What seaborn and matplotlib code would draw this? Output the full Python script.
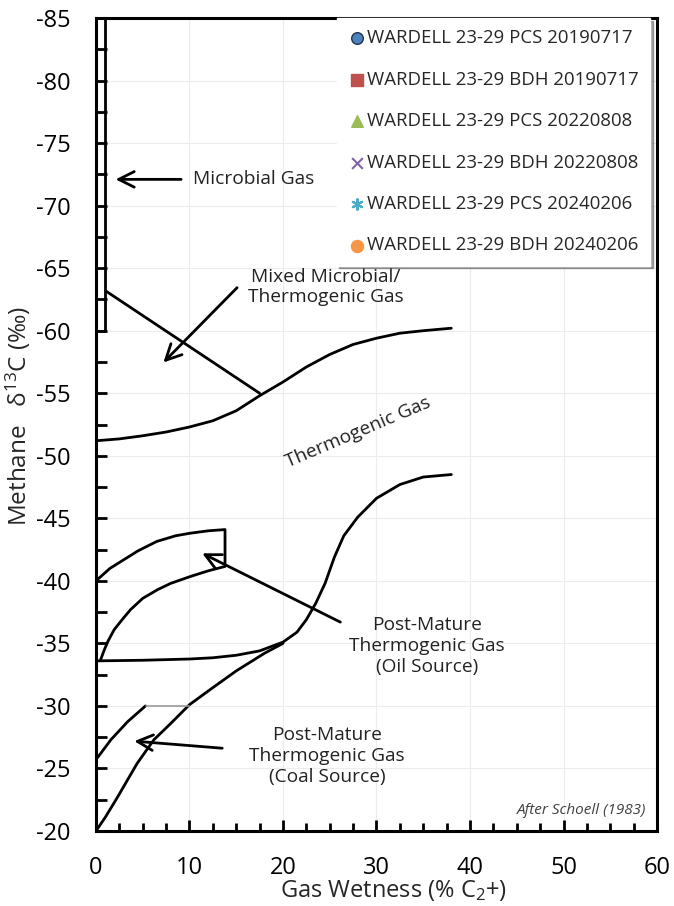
import seaborn as sns
import matplotlib.pyplot as plt
from matplotlib.ticker import MultipleLocator

OUT_PNG = "out.png"

# Boundary lines of the Schoell (1983) genetic diagram
MICROBIAL_X = [0.0, 1.0, 1.0]
MICROBIAL_Y = [-60.0, -60.0, -85.0]

MIXED_X = [1.0, 17.5]
MIXED_Y = [-63.2, -55.0]

THERMO_UPPER_X = [0, 2.5, 5, 7.5, 10, 12.5, 15, 17.5, 20, 22.5, 25, 27.5, 30, 32.5, 35, 38]
THERMO_UPPER_Y = [-51.2, -51.35, -51.6, -51.9, -52.3, -52.8, -53.6, -54.8, -55.9, -57.1,
                  -58.1, -58.9, -59.4, -59.8, -60.0, -60.2]

THERMO_LOWER_X = [0, 5, 10, 12.5, 15, 17.5, 20, 21.5, 22.5, 23.5, 24.5, 25.5, 26.5, 28,
                  30, 32.5, 35, 38]
THERMO_LOWER_Y = [-33.6, -33.65, -33.75, -33.85, -34.05, -34.4, -35.1, -35.9, -36.9, -38.2,
                  -39.8, -41.9, -43.6, -45.1, -46.6, -47.7, -48.3, -48.5]

OIL_X = [0.0, 1.5, 3.0, 4.5, 6.5, 8.5, 10.0, 12.0, 13.8, 13.8, 12.0, 10.1, 8.0, 6.6, 5.0,
         3.7, 2.8, 1.95, 1.3, 0.9, 0.5]
OIL_Y = [-40.0, -41.0, -41.7, -42.4, -43.15, -43.6, -43.8, -44.0, -44.1, -41.15, -40.8,
         -40.35, -39.8, -39.3, -38.6, -37.7, -36.9, -36.1, -35.2, -34.5, -33.7]

COAL_UPPER_X = [0.0, 1.6, 3.4, 5.3]
COAL_UPPER_Y = [-25.7, -27.3, -28.75, -30.0]
COAL_CAP_X = [5.3, 10.0]
COAL_CAP_Y = [-30.0, -30.0]

COAL_LOWER_X = [0, 1, 2.3, 4.4, 6.2, 8, 10, 12.2, 15, 18, 20]
COAL_LOWER_Y = [-20.0, -21.1, -22.7, -25.4, -27.3, -28.6, -30.1, -31.3, -32.8, -34.2, -35.0]

# Sample series (no samples plotted inside the chart area)
SERIES_LABELS = [
    "WARDELL 23-29 PCS 20190717",
    "WARDELL 23-29 BDH 20190717",
    "WARDELL 23-29 PCS 20220808",
    "WARDELL 23-29 BDH 20220808",
    "WARDELL 23-29 PCS 20240206",
    "WARDELL 23-29 BDH 20240206",
]
SERIES_WETNESS = [[], [], [], [], [], []]
SERIES_D13C = [[], [], [], [], [], []]
SERIES_COLORS = ["#4F81BD", "#C0504D", "#9BBB59", "#8064A2", "#4BACC6", "#F79646"]
SERIES_MARKERS = ["o", "s", "^", "x", (6, 2, 0), "o"]


def main():
    sns.set_theme(style="white")
    plt.rcParams["font.family"] = ["Open Sans", "DejaVu Sans"]
    plt.rcParams["mathtext.fontset"] = "custom"
    plt.rcParams["mathtext.rm"] = "Open Sans"
    plt.rcParams["mathtext.default"] = "regular"
    plt.rcParams["axes.unicode_minus"] = False

    fig = plt.figure(figsize=(6.74, 9.06), dpi=100)
    ax = fig.add_axes([0.1424, 0.0828, 0.8324, 0.8973])

    line_kw = dict(color="black", lw=2.0, sort=False, estimator=None, ax=ax, legend=False)
    sns.lineplot(x=MICROBIAL_X, y=MICROBIAL_Y, **line_kw)
    sns.lineplot(x=MIXED_X, y=MIXED_Y, **line_kw)
    sns.lineplot(x=THERMO_UPPER_X, y=THERMO_UPPER_Y, **line_kw)
    sns.lineplot(x=THERMO_LOWER_X, y=THERMO_LOWER_Y, **line_kw)
    sns.lineplot(x=OIL_X, y=OIL_Y, **line_kw)
    sns.lineplot(x=COAL_UPPER_X, y=COAL_UPPER_Y, **line_kw)
    sns.lineplot(x=COAL_LOWER_X, y=COAL_LOWER_Y, **line_kw)
    sns.lineplot(x=COAL_CAP_X, y=COAL_CAP_Y, color="#9a9a9a", lw=1.2, sort=False,
                 estimator=None, ax=ax, legend=False)

    for xs, ys, lab, col, mk in zip(SERIES_WETNESS, SERIES_D13C, SERIES_LABELS,
                                    SERIES_COLORS, SERIES_MARKERS):
        if mk in ("x", (6, 2, 0)):
            ax.scatter(xs, ys, marker=mk, color=col, s=60, linewidths=1.5, label=lab)
        elif col == "#F79646":
            ax.scatter(xs, ys, marker=mk, color=col, s=75, label=lab)
        else:
            ax.scatter(xs, ys, marker=mk, color=col, s=70, edgecolors="#1f3350" if mk == "o" else col,
                       linewidths=1.0, label=lab)

    arrow = dict(arrowstyle="->", color="black", lw=2.0, mutation_scale=28)
    ax.annotate("", xy=(1.8, -72.1), xytext=(9.4, -72.1), arrowprops=arrow)
    ax.annotate("", xy=(7.0, -57.3), xytext=(15.3, -63.6), arrowprops=arrow)
    ax.annotate("", xy=(11.1, -42.3), xytext=(26.4, -36.6), arrowprops=arrow)
    ax.annotate("", xy=(3.8, -27.2), xytext=(13.8, -26.6), arrowprops=arrow)

    txt = dict(fontsize=13.8, color="#222222", ha="center", va="center", linespacing=1.2)
    ax.text(10.4, -72.1, "Microbial Gas", **{**txt, "ha": "left"})
    ax.text(24.6, -63.5, "Mixed Microbial/\nThermogenic Gas", **txt)
    ax.text(28.0, -51.9, "Thermogenic Gas", rotation=23, **txt)
    ax.text(35.4, -34.8, "Post-Mature\nThermogenic Gas\n(Oil Source)", **txt)
    ax.text(24.7, -26.0, "Post-Mature\nThermogenic Gas\n(Coal Source)", **txt)
    ax.text(58.8, -21.6, "After Schoell (1983)", fontsize=11, style="italic",
            color="#404040", ha="right", va="center")

    ax.set_xlim(0, 60)
    ax.set_ylim(-20, -85)
    ax.xaxis.set_major_locator(MultipleLocator(10))
    ax.xaxis.set_minor_locator(MultipleLocator(2.5))
    ax.yaxis.set_major_locator(MultipleLocator(5))
    ax.yaxis.set_minor_locator(MultipleLocator(2.5))
    ax.tick_params(axis="both", which="both", direction="in", width=2.0, colors="black",
                   labelsize=17, left=True, bottom=True, top=False, right=False)
    ax.tick_params(axis="x", which="major", length=8, pad=18)
    ax.tick_params(axis="x", which="minor", length=6)
    ax.tick_params(axis="y", which="both", length=8, pad=18)
    ax.grid(True, which="major", color="#ececec", lw=0.8)
    for sp in ax.spines.values():
        sp.set_color("black")
        sp.set_linewidth(2.2)

    ax.set_xlabel("Gas Wetness (% C$_2$+)", fontsize=17)
    ax.xaxis.set_label_coords(0.531, -0.058)
    ax.set_ylabel("Methane   \u03b4$^{13}$C (\u2030)", fontsize=17.5)
    ax.yaxis.set_label_coords(-0.112, 0.51)

    leg = ax.legend(loc="upper right", bbox_to_anchor=(0.9875, 1.0), borderaxespad=0,
                    frameon=True, shadow=True, fontsize=13.4, labelspacing=1.26,
                    handletextpad=0.05, handlelength=1.0, borderpad=0.6, fancybox=False)
    leg.get_frame().set_edgecolor("white")
    leg.get_frame().set_facecolor("white")
    leg.get_frame().set_alpha(1.0)

    fig.savefig(OUT_PNG, dpi=100)
    plt.close(fig)


if __name__ == "__main__":
    main()
